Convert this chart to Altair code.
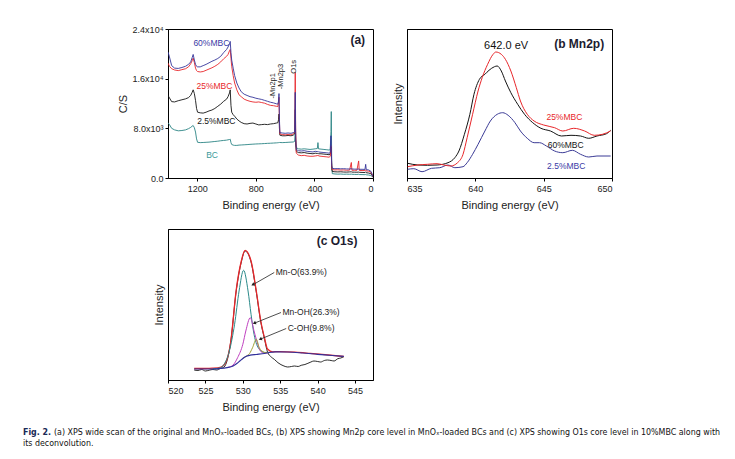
"""XPS spectra figure: wide scan, Mn2p and O1s panels with caption."""

import math
import pandas as pd
import altair as alt

FONT = 'Liberation Sans'
CAPTION_FONT = 'Liberation Sans Narrow, DejaVu Sans Condensed, Arial Narrow, sans-serif'

# ---------------- panel (a): wide scan ----------------
a_energy = [1400, 1390, 1375, 1355, 1330, 1305, 1280, 1260, 1245, 1235, 1228, 1220, 1212, 1205,
            1198, 1180, 1160, 1140, 1120, 1100, 1080, 1060, 1040, 1020, 1000, 990, 980, 975,
            970, 965, 955, 945, 930, 915, 900, 880, 860, 840, 820, 800, 780, 760, 740, 720,
            700, 680, 660, 650, 645, 642, 639, 636, 620, 600, 580, 560, 545, 535, 531, 528,
            524, 510, 490, 470, 450, 430, 410, 395, 380, 376, 372, 355, 335, 315, 300, 292,
            287, 285, 282, 278, 260, 240, 220, 200, 180, 160, 148, 144, 125, 110, 98, 94,
            75, 55, 50, 46, 30, 15, 5, 0]
a_60 = [20300, 19500, 18100, 17700, 17650, 17800, 18000, 18300, 18700, 19400, 19900, 19000, 18300, 18000,
        17900, 17900, 18100, 18300, 18550, 18800, 19000, 19250, 19600, 20200, 20700, 21100, 21600, 22000,
        20200, 19000, 17700, 16500, 15300, 14500, 13900, 13500, 13300, 13100, 13000, 12850, 12750, 12650, 12500, 12350,
        12200, 12100, 11950, 11900, 12400, 13600, 9500, 7300, 7250, 7200, 7250, 7200, 7300, 7400, 13800, 6500,
        4600, 4400, 4350, 4400, 4300, 4250, 4200, 4300, 4250, 4300, 4200, 4150, 4100, 4050, 4000, 4100,
        6800, 5000, 2000, 1550, 1500, 1520, 1480, 1500, 1460, 1450, 1500, 1450, 1430, 1420, 1450, 1400,
        1400, 1380, 2200, 1350, 1300, 1100, 600, 200]
a_25 = [18500, 18000, 17600, 17400, 17300, 17450, 17600, 17900, 18400, 18900, 19300, 18600, 17700, 17300,
        17150, 17080, 17150, 17350, 17550, 17750, 18000, 18300, 18700, 19200, 19600, 19900, 20500, 20700,
        19300, 18000, 16500, 15300, 14200, 13400, 13100, 12700, 12500, 12350, 12250, 12200, 12250, 12150, 12050, 11850,
        11700, 11650, 11550, 11500, 12200, 13000, 9000, 7100, 7000, 6950, 7000, 6950, 7100, 7300, 17000, 7500,
        4000, 3700, 3600, 3650, 3550, 3500, 3500, 3550, 3600, 3700, 3550, 3500, 3450, 3400, 3350, 3500,
        5200, 4500, 1800, 1350, 1300, 1320, 1280, 1300, 1250, 1270, 2500, 1250, 1250, 1230, 2750, 1220,
        1200, 1200, 1300, 1150, 1100, 950, 500, 150]
a_2p5 = [13300, 12900, 12300, 12250, 12450, 12600, 12750, 12950, 13300, 13800, 14200, 13600, 12500, 11200,
         10600, 10500, 10450, 10600, 10800, 10950, 11200, 11550, 11900, 12350, 12700, 13100, 13700, 14200,
         11700, 10600, 10200, 9950, 9500, 9200, 8950, 8750, 8700, 8800, 8850, 8700, 8550, 8600, 8650, 8600,
         8700, 8750, 8850, 8900, 9400, 10300, 8000, 6900, 6800, 6800, 6850, 6800, 6900, 7100, 11000, 6200,
         4300, 4100, 4050, 4100, 4000, 3950, 3900, 4000, 3950, 4000, 3900, 3900, 3850, 3800, 3750, 3850,
         5000, 4500, 1500, 1050, 1000, 980, 1000, 960, 950, 980, 1000, 950, 940, 930, 950, 920,
         900, 880, 1000, 850, 800, 700, 400, 150]
a_bc = [8900, 8600, 8000, 7750, 7600, 7650, 7750, 7950, 8150, 8350, 8450, 8100, 7400, 6300,
        5750, 5700, 5720, 5750, 5780, 5830, 5880, 5930, 6000, 6050, 6100, 6150, 6200, 6250,
        5700, 5400, 5300, 5250, 5250, 5300, 5320, 5350, 5380, 5420, 5450, 5480, 5500, 5520, 5550, 5580,
        5600, 5630, 5660, 5680, 5700, 5720, 5720, 5720, 5700, 5720, 5750, 5780, 5800, 5900, 7300, 5300,
        4900, 4700, 4650, 4700, 4650, 4600, 4650, 4700, 4750, 5700, 4700, 4650, 4600, 4550, 4500, 4600,
        7500, 10700, 2500, 700, 650, 620, 640, 600, 620, 600, 620, 600, 580, 570, 600, 560,
        550, 540, 560, 520, 480, 400, 250, 100]

a_names = ['BC', '2.5%MBC', '25%MBC', '60%MBC']
a_colors = ['#2b8585', '#141414', '#e8262a', '#34349a']
a_series = [a_bc, a_2p5, a_25, a_60]

a_label_text = ['60%MBC', '25%MBC', '2.5%MBC', 'BC']
a_label_energy = [1104, 1083, 1070, 1099]
a_label_cps = [21700, 14850, 9230, 3730]
a_label_color = ['#3a3aa6', '#e8262a', '#141414', '#3a9a9a']

a_peak_text = ['-Mn2p1', '-Mn2p3', 'O1s']
a_peak_energy = [682, 630, 538]
a_peak_cps = [12800, 14300, 16800]

# ---------------- panel (b): Mn2p ----------------
b_e_25 = [635.05, 635.8, 636.5, 637.2, 637.7, 638.2, 638.7, 639.1, 639.4, 639.8, 640.2, 640.5, 640.9,
          641.3, 641.5, 641.9, 642.2, 642.6, 643.0, 643.3, 643.8, 644.3, 645.0, 645.8, 646.4, 647.2,
          648.0, 648.7, 649.3, 649.9]
b_i_25 = [11.3, 13, 13.7, 14.3, 13, 12, 15.3, 23.7, 40.3, 63.7, 87, 100.3, 113.7,
          123.7, 126, 123.7, 118.7, 107, 90.3, 77, 63.7, 57, 53, 50.3, 47, 49.7,
          47, 42.7, 43.7, 47]
b_e_60 = [635.05, 635.8, 636.5, 637.2, 638.0, 638.5, 638.8, 639.2, 639.6, 639.9, 640.3, 640.7, 641.0,
          641.4, 641.6, 641.9, 642.2, 642.6, 643.1, 643.6, 644.2, 644.8, 645.5, 646.3, 647.0, 647.7,
          648.3, 648.9, 649.6, 649.9]
b_i_60 = [14.7, 13, 12.7, 13, 15.3, 20.3, 27, 43.7, 63.7, 83.7, 98.7, 103.7, 107.7,
          111.3, 112, 107, 97, 85.3, 73.7, 63.7, 55.3, 49.7, 47, 42, 42.7, 42,
          39.7, 42, 44.3, 47.7]
b_e_2p5 = [635.05, 635.5, 636.1, 636.8, 637.4, 638.0, 638.5, 639.1, 639.4, 639.8, 640.2, 640.7, 641.1,
           641.6, 642.0, 642.4, 642.9, 643.3, 643.8, 644.3, 644.7, 645.2, 645.8, 646.4, 647.1, 647.7,
           648.3, 648.9, 649.9]
b_i_2p5 = [8.7, 9.3, 6.3, 9.7, 10.3, 13, 10.3, 11.3, 15.3, 23.7, 33.7, 47, 57,
           63.7, 65.3, 62.7, 55.3, 47, 39.7, 35.3, 35.3, 32, 27, 25.3, 27.7, 23.7,
           21, 22, 22]

b_label_text = ['25%MBC', '60%MBC', '2.5%MBC']
b_label_energy = [645.2, 645.3, 645.25]
b_label_int = [61, 33, 12]
b_label_color = ['#e8262a', '#141414', '#3a3aa6']

# ---------------- panel (c): O1s ----------------
c_raw_e = [523.5, 524, 524.5, 525, 525.5, 526, 526.5, 527, 527.5, 528.4, 529.1, 529.8, 530.3, 531.1,
           531.8, 532.4, 532.9, 533.3, 533.8, 534.2, 534.7, 535.5, 536, 536.5, 536.9, 537.4, 537.8,
           538.3, 538.7, 539.1, 539.5, 540, 540.4, 540.9, 541.3, 541.8, 542.2, 542.7, 543.1, 543.5]
c_raw_i = [10, 9.5, 10.5, 9, 9.8, 10.5, 10, 11.5, 13, 39, 88, 118, 129, 118,
           88, 58, 41, 28, 23, 20.7, 17.3, 14, 13, 13.5, 14, 13.5, 14.7,
           15.5, 16.7, 18, 19, 18.5, 18, 19.5, 20, 19.5, 19, 21.3, 22, 23.3]
c_fit_e = [523.5, 525, 526, 527.1, 527.8, 528.4, 529.1, 529.8, 530.3, 531.1, 531.8, 532.4, 532.9,
           533.3, 534.0, 535, 537, 539, 541, 543.5]
c_fit_i = [11.5, 11.5, 11.8, 13, 19, 39, 89, 119, 129.7, 119, 89, 59, 42,
           31, 28.2, 28.4, 27.8, 26.6, 25.3, 23.5]
c_mno_e = [526.0, 526.9, 527.5, 528.2, 528.9, 529.5, 530.1, 530.7, 531.1, 531.5, 532.2, 532.9, 533.5]
c_mno_i = [11.2, 12, 15.7, 29, 55.7, 89, 109.7, 89, 65.7, 45.7, 30.7, 27.5, 27.6]
c_mnoh_e = [528.0, 528.7, 529.3, 530.0, 530.4, 531.0, 531.5, 532.0, 532.4, 532.9, 533.5]
c_mnoh_i = [12.5, 15, 22.3, 35.7, 49, 62.3, 49, 35.7, 28.5, 26.8, 27.6]
c_coh_e = [530.0, 530.5, 530.9, 531.3, 531.8, 532.2, 532.7, 533.1, 533.5]
c_coh_i = [21.8, 24, 26.5, 32.3, 40.7, 32.3, 28.3, 27.4, 27.6]
c_bg_e = [523.5, 525, 526.5, 527.5, 528.2, 528.7, 529.2, 529.6, 530.0, 530.4, 531.0, 531.8, 532.9,
          533.5, 534.3, 536, 538, 540, 542, 543.5]
c_bg_i = [11, 11, 11.2, 11.8, 12.8, 14, 16.5, 19, 21.5, 23.5, 24.8, 25.5, 26.5,
          27.5, 28.2, 28, 27, 25.7, 24.5, 23.5]

c_note_text = ['Mn-O(63.9%)', 'Mn-OH(26.3%)', 'C-OH(9.8%)']
c_note_energy = [534.4, 535.3, 536.0]
c_note_int = [108, 68, 52]
c_arrow_from_e = [534.2, 535.1, 535.8]
c_arrow_from_i = [107.5, 67.5, 51.5]
c_arrow_to_e = [531.4, 531.6, 532.4]
c_arrow_to_i = [95.5, 57, 41]

caption_bold = 'Fig. 2.'
caption_line1 = ('(a) XPS wide scan of the original and MnOₓ-loaded BCs, (b) XPS showing Mn2p core level '
                 'in MnOₓ-loaded BCs and (c) XPS showing O1s core level in 10%MBC along with')
caption_line2 = 'its deconvolution.'


def bottom_axis(values):
    return alt.Axis(values=values, format='d', title='Binding energy (eV)', grid=False, tickSize=3,
                    labelFontSize=9, titleFontSize=11, titlePadding=6, labelPadding=3)


def text_layer(df, x, y, **mark_kw):
    base = dict(font=FONT, fontSize=8.5, align='left', baseline='middle')
    base.update(mark_kw)
    return alt.Chart(df).mark_text(**base).encode(x=x, y=y, text='text:N',
                                                   color=alt.Color('color:N', scale=None))


def make_panel_a():
    x = alt.X('energy:Q', scale=alt.Scale(domain=[0, 1400], reverse=True, nice=False),
              axis=bottom_axis([1200, 800, 400, 0]))
    y = alt.Y('cps:Q', scale=alt.Scale(domain=[0, 24000], nice=False),
              axis=alt.Axis(values=[0, 8000, 16000, 24000], title='C/S', grid=False, tickSize=3,
                            labelFontSize=9, titleFontSize=11, titlePadding=4,
                            labelExpr="datum.value == 0 ? '0.0' : datum.value == 8000 ? '8.0x10³' : "
                                      "datum.value == 16000 ? '1.6x10⁴' : '2.4x10⁴'"))
    layers = []
    for name, vals, color in zip(a_names, a_series, a_colors):
        df = pd.DataFrame({'energy': a_energy, 'cps': vals})
        layers.append(alt.Chart(df).mark_line(color=color, strokeWidth=0.9, clip=True)
                      .encode(x=x, y=y))
    labels = pd.DataFrame({'energy': a_label_energy, 'cps': a_label_cps,
                           'text': a_label_text, 'color': a_label_color})
    layers.append(text_layer(labels, x, y, align='center'))
    peaks = pd.DataFrame({'energy': a_peak_energy, 'cps': a_peak_cps,
                          'text': a_peak_text, 'color': ['#222'] * 3})
    layers.append(text_layer(peaks, x, y, angle=270, fontSize=7.5))
    tag = pd.DataFrame({'energy': [104], 'cps': [22200], 'text': ['(a)'], 'color': ['#1c1c30']})
    layers.append(text_layer(tag, x, y, align='center', fontSize=12, fontWeight='bold'))
    return alt.layer(*layers).properties(width=205, height=149)


def make_panel_b():
    x = alt.X('energy:Q', scale=alt.Scale(domain=[635, 650], nice=False),
              axis=bottom_axis([635, 640, 645, 650]))
    y = alt.Y('intensity:Q', scale=alt.Scale(domain=[0, 149], nice=False),
              axis=alt.Axis(title='Intensity', labels=False, ticks=False, grid=False,
                            titleFontSize=11, titlePadding=4))
    layers = []
    for e, i, color in [(b_e_2p5, b_i_2p5, '#3b3b96'), (b_e_60, b_i_60, '#141414'),
                        (b_e_25, b_i_25, '#e8262a')]:
        df = pd.DataFrame({'energy': e, 'intensity': i})
        layers.append(alt.Chart(df).mark_line(color=color, strokeWidth=1, interpolate='monotone',
                                              clip=True).encode(x=x, y=y))
    labels = pd.DataFrame({'energy': b_label_energy, 'intensity': b_label_int,
                           'text': b_label_text, 'color': b_label_color})
    layers.append(text_layer(labels, x, y))
    peak = pd.DataFrame({'energy': [642.25], 'intensity': [132], 'text': ['642.0 eV'],
                         'color': ['#111']})
    layers.append(text_layer(peak, x, y, align='center', fontSize=11))
    tag = pd.DataFrame({'energy': [647.6], 'intensity': [134], 'text': ['(b Mn2p)'],
                        'color': ['#1c1c30']})
    layers.append(text_layer(tag, x, y, align='center', fontSize=12, fontWeight='bold'))
    return alt.layer(*layers).properties(width=205, height=149)


def make_panel_c():
    px_per_ev = 205 / 27.4
    px_per_unit = 1.0
    x = alt.X('energy:Q', scale=alt.Scale(domain=[520, 547.4], nice=False),
              axis=bottom_axis([520, 525, 530, 535, 540, 545]))
    y = alt.Y('intensity:Q', scale=alt.Scale(domain=[0, 151], nice=False),
              axis=alt.Axis(title='Intensity', labels=False, ticks=False, grid=False,
                            titleFontSize=11, titlePadding=4))
    layers = []
    curves = [(c_raw_e, c_raw_i, '#141414', 0.9), (c_fit_e, c_fit_i, '#e8262a', 1.3),
              (c_mno_e, c_mno_i, '#2b8a8a', 1), (c_mnoh_e, c_mnoh_i, '#c040c0', 1),
              (c_coh_e, c_coh_i, '#a0a030', 1), (c_bg_e, c_bg_i, '#30309a', 1.2)]
    for e, i, color, width in curves:
        df = pd.DataFrame({'energy': e, 'intensity': i})
        layers.append(alt.Chart(df).mark_line(color=color, strokeWidth=width, interpolate='monotone',
                                              clip=True).encode(x=x, y=y))
    arrows = pd.DataFrame({'energy': c_arrow_from_e, 'intensity': c_arrow_from_i,
                           'energy2': c_arrow_to_e, 'intensity2': c_arrow_to_i})
    layers.append(alt.Chart(arrows).mark_rule(color='#222', strokeWidth=0.8).encode(
        x=x, y=y, x2='energy2:Q', y2='intensity2:Q'))
    # arrow heads point from the label towards the peak
    angles = []
    for fe, fi, te, ti in zip(c_arrow_from_e, c_arrow_from_i, c_arrow_to_e, c_arrow_to_i):
        dx = (te - fe) * px_per_ev
        dy = -(ti - fi) * px_per_unit
        angles.append(math.degrees(math.atan2(dx, -dy)) % 360)
    heads = pd.DataFrame({'energy': c_arrow_to_e, 'intensity': c_arrow_to_i, 'angle': angles})
    layers.append(alt.Chart(heads).mark_point(shape='triangle', filled=True, size=14,
                                              color='#222', opacity=1).encode(
        x=x, y=y, angle=alt.Angle('angle:Q', scale=None)))
    notes = pd.DataFrame({'energy': c_note_energy, 'intensity': c_note_int,
                          'text': c_note_text, 'color': ['#222'] * 3})
    layers.append(text_layer(notes, x, y))
    tag = pd.DataFrame({'energy': [542.6], 'intensity': [139], 'text': ['(c O1s)'],
                        'color': ['#1c1c30']})
    layers.append(text_layer(tag, x, y, align='center', fontSize=12, fontWeight='bold'))

    # figure caption under the panels
    cap = dict(font=CAPTION_FONT, fontSize=8.8, align='left', baseline='middle', color='#111')
    layers.append(alt.Chart(pd.DataFrame({'text': [caption_bold]}))
                  .mark_text(**{**cap, 'fontWeight': 'bold', 'color': '#1a2a55'})
                  .encode(text='text:N', x=alt.value(-145), y=alt.value(203)))
    layers.append(alt.Chart(pd.DataFrame({'text': [caption_line1]})).mark_text(**cap)
                  .encode(text='text:N', x=alt.value(-114), y=alt.value(203)))
    layers.append(alt.Chart(pd.DataFrame({'text': [caption_line2]})).mark_text(**cap)
                  .encode(text='text:N', x=alt.value(-145), y=alt.value(214)))
    return alt.layer(*layers).properties(width=205, height=151)


chart = (
    alt.concat(make_panel_a(), make_panel_b(), make_panel_c(), columns=2,
               spacing={'row': 51, 'column': 34}, bounds='flush')
    .properties(padding={'left': 14, 'top': 16, 'right': 5, 'bottom': 5}, background='white')
    .configure_view(stroke='black', strokeWidth=1)
    .configure_axis(labelFont=FONT, titleFont=FONT, titleFontWeight='normal',
                    labelColor='#222', titleColor='#222', domainColor='black',
                    tickColor='black')
)

chart.save('out.html', embed_options={'renderer': 'svg', 'actions': False})
